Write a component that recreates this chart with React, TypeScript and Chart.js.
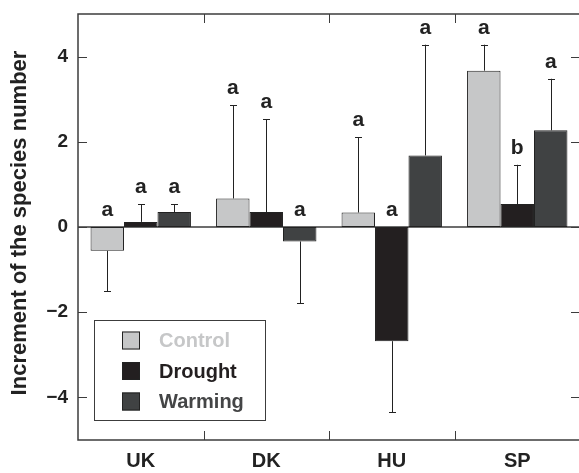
import React, { useEffect, useRef } from 'react';
import { Chart, registerables } from 'chart.js';

Chart.register(...registerables);

const categories = ['UK', 'DK', 'HU', 'SP'];
const seriesNames = ['Control', 'Drought', 'Warming'];
const controlValues = [-0.56, 0.67, 0.34, 3.67];
const droughtValues = [0.12, 0.35, -2.68, 0.54];
const warmingValues = [0.35, -0.34, 1.68, 2.27];
const controlErrors = [0.95, 2.19, 1.77, 0.61];
const droughtErrors = [0.41, 2.18, 1.67, 0.92];
const warmingErrors = [0.18, 1.45, 2.6, 1.21];
const controlLetters = ['a', 'a', 'a', 'a'];
const droughtLetters = ['a', 'a', 'a', 'b'];
const warmingLetters = ['a', 'a', 'a', 'a'];
const yTickValues = [-4, -2, 0, 2, 4];
const yTitle = 'Increment of the species number';

const FONT = '"Liberation Sans", Arial, Helvetica, sans-serif';
const fillColors = ['#c6c7c8', '#231f20', '#404243'];
const legendTextColors = ['#c6c7c8', '#231f20', '#444546'];
const INK = '#222222';
const FRAME = '#3c3c3c';

const decorPlugin = {
  id: 'decor',
  beforeDatasetsDraw(chart: any) {
    const ctx = chart.ctx;
    const { left, right } = chart.chartArea;
    const y = chart.scales.y;
    const y0 = y.getPixelForValue(0);
    ctx.save();
    ctx.strokeStyle = FRAME;
    ctx.lineWidth = 1.5;
    ctx.beginPath();
    ctx.moveTo(left, y0);
    ctx.lineTo(right, y0);
    ctx.stroke();
    ctx.restore();
  },
  afterDatasetsDraw(chart: any) {
    const ctx = chart.ctx;
    const y = chart.scales.y;
    const y0 = y.getPixelForValue(0);
    ctx.save();
    ctx.strokeStyle = INK;
    ctx.lineWidth = 1;
    ctx.fillStyle = INK;
    ctx.font = `bold 21px ${FONT}`;
    ctx.textAlign = 'center';
    ctx.textBaseline = 'alphabetic';
    chart.data.datasets.forEach((ds: any, di: number) => {
      const meta = chart.getDatasetMeta(di);
      meta.data.forEach((bar: any, i: number) => {
        const v = ds.data[i];
        const e = ds.errors[i];
        const end = v >= 0 ? v + e : v - e;
        const py = y.getPixelForValue(end);
        const bx = Math.round(bar.x) + 0.5;
        ctx.beginPath();
        ctx.moveTo(bx, bar.y);
        ctx.lineTo(bx, py);
        ctx.moveTo(bx - 3.5, Math.round(py) + 0.5);
        ctx.lineTo(bx + 3.5, Math.round(py) + 0.5);
        ctx.stroke();
        const anchor = v >= 0 ? Math.min(py, y0) : y0;
        ctx.fillText(ds.letters[i], bar.x, anchor - 11);
      });
    });
    ctx.restore();
  },
  afterDraw(chart: any) {
    const ctx = chart.ctx;
    const { left, right, top, bottom } = chart.chartArea;
    const y = chart.scales.y;
    const x = chart.scales.x;
    ctx.save();
    // frame
    ctx.strokeStyle = FRAME;
    ctx.lineWidth = 1.5;
    ctx.beginPath();
    ctx.moveTo(left, top);
    ctx.lineTo(right, top);
    ctx.lineTo(right, bottom);
    ctx.lineTo(left, bottom);
    ctx.closePath();
    ctx.stroke();
    // y ticks, inward on both sides
    ctx.lineWidth = 1;
    yTickValues.forEach((v) => {
      const py = Math.round(y.getPixelForValue(v)) + 0.5;
      ctx.beginPath();
      ctx.moveTo(left, py);
      ctx.lineTo(left + 9, py);
      ctx.moveTo(right, py);
      ctx.lineTo(right - 9, py);
      ctx.stroke();
    });
    // category boundary ticks on top and bottom
    for (let i = 1; i < categories.length; i++) {
      const px = Math.round((x.getPixelForValue(i - 1) + x.getPixelForValue(i)) / 2) + 0.5;
      ctx.beginPath();
      ctx.moveTo(px, top);
      ctx.lineTo(px, top + 9);
      ctx.moveTo(px, bottom);
      ctx.lineTo(px, bottom - 9);
      ctx.stroke();
    }
    // y title
    ctx.fillStyle = INK;
    ctx.font = `bold 22px ${FONT}`;
    ctx.textAlign = 'center';
    ctx.textBaseline = 'middle';
    ctx.translate(20, (top + bottom) / 2 - 4);
    ctx.rotate(-Math.PI / 2);
    ctx.fillText(yTitle, 0, 0);
    ctx.setTransform(1, 0, 0, 1, 0, 0);
    // legend
    const lx = 94.5;
    const ly = 320.5;
    const lw = 171;
    const lh = 100;
    ctx.fillStyle = '#ffffff';
    ctx.fillRect(lx, ly, lw, lh);
    ctx.strokeStyle = FRAME;
    ctx.lineWidth = 1;
    ctx.strokeRect(lx, ly, lw, lh);
    ctx.font = `bold 20px ${FONT}`;
    ctx.textAlign = 'left';
    ctx.textBaseline = 'middle';
    seriesNames.forEach((name, i) => {
      const cy = 340.5 + i * 30.5;
      ctx.fillStyle = fillColors[i];
      ctx.fillRect(122, cy - 9, 18, 18);
      ctx.strokeStyle = INK;
      ctx.strokeRect(122.5, cy - 8.5, 17, 17);
      ctx.fillStyle = legendTextColors[i];
      ctx.fillText(name, 159, cy + 1);
    });
    ctx.restore();
  },
};

export default function App() {
  const canvasRef = useRef<HTMLCanvasElement>(null);

  useEffect(() => {
    const canvas = canvasRef.current;
    if (!canvas) return;
    const valueSets = [controlValues, droughtValues, warmingValues];
    const errorSets = [controlErrors, droughtErrors, warmingErrors];
    const letterSets = [controlLetters, droughtLetters, warmingLetters];
    const chart = new Chart(canvas, {
      type: 'bar',
      data: {
        labels: categories,
        datasets: seriesNames.map((name, i) => ({
          label: name,
          data: valueSets[i],
          errors: errorSets[i],
          letters: letterSets[i],
          backgroundColor: fillColors[i],
          borderColor: INK,
          borderWidth: 1,
          borderSkipped: false,
          barPercentage: 1,
          categoryPercentage: 0.8,
        })) as any,
      },
      options: {
        responsive: false,
        animation: false,
        devicePixelRatio: 1,
        layout: { padding: { top: 14, right: 3, bottom: 0, left: 0 } },
        plugins: { legend: { display: false }, tooltip: { enabled: false } },
        scales: {
          x: {
            grid: { display: false, drawTicks: false },
            border: { display: false },
            ticks: {
              color: INK,
              padding: 9,
              font: { family: FONT, size: 20, weight: 'bold' },
            },
            afterFit: (scale: any) => {
              scale.height = 33;
              scale.paddingLeft = 0;
              scale.paddingRight = 0;
            },
          },
          y: {
            min: -5,
            max: 5,
            grid: { display: false, drawTicks: false },
            border: { display: false },
            afterBuildTicks: (scale: any) => {
              scale.ticks = yTickValues.map((v) => ({ value: v }));
            },
            ticks: {
              color: INK,
              padding: 10,
              font: { family: FONT, size: 19, weight: 'bold' },
              callback: (v: any) => (Number(v) < 0 ? '\u2212' + Math.abs(Number(v)) : String(v)),
            },
            afterFit: (scale: any) => {
              scale.width = 78;
              scale.paddingTop = 0;
              scale.paddingBottom = 0;
            },
          },
        },
      },
      plugins: [decorPlugin],
    });
    return () => chart.destroy();
  }, []);

  return (
    <div style={{ position: 'fixed', left: 0, top: 0, width: 579, height: 473, overflow: 'hidden', background: '#fff' }}>
      <canvas ref={canvasRef} width={583} height={473} style={{ display: 'block' }} />
    </div>
  );
}
